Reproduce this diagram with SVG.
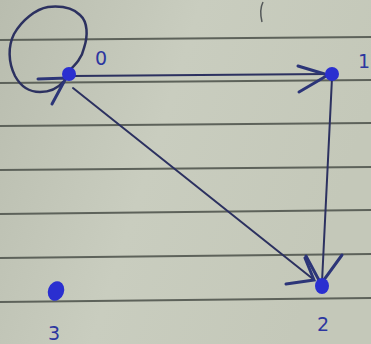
<svg xmlns="http://www.w3.org/2000/svg" width="371" height="344" viewBox="0 0 371 344">
<defs>
<linearGradient id="paper" x1="0" y1="0" x2="1" y2="0.3">
<stop offset="0" stop-color="#b9bdaf"/>
<stop offset="0.5" stop-color="#c9cdbf"/>
<stop offset="1" stop-color="#c4c8b9"/>
</linearGradient>
<style>
.rule{stroke:#5d625a;stroke-width:2;fill:none}
.edge{stroke:#2c3160;stroke-width:2;fill:none;stroke-linecap:round}
.loop{stroke:#2c3160;stroke-width:2.5;fill:none;stroke-linecap:round}
.head{stroke:#2c3578;stroke-width:3;fill:none;stroke-linecap:round}
.dot{fill:#2a2fd0}
.lbl{font-family:"DejaVu Sans",sans-serif;font-size:19px;fill:#2c36a0}
</style>
</defs>
<rect width="371" height="344" fill="url(#paper)"/>
<g id="paper-lines">
<line class="rule" x1="0" y1="-2" x2="371" y2="-5"/>
<line class="rule" x1="0" y1="40" x2="371" y2="37"/>
<line class="rule" x1="0" y1="83" x2="371" y2="80"/>
<line class="rule" x1="0" y1="126" x2="371" y2="123"/>
<line class="rule" x1="0" y1="170" x2="371" y2="167"/>
<line class="rule" x1="0" y1="214" x2="371" y2="210"/>
<line class="rule" x1="0" y1="258" x2="371" y2="254"/>
<line class="rule" x1="0" y1="302" x2="371" y2="298"/>
<path d="M263 2 Q259 10 262 22" stroke="#55595a" stroke-width="1.5" fill="none"/>
</g>
<g id="connectors">
<path class="loop" d="M68 72 C76 64 82 58 84 48 C88 36 88 22 80 15 C72 7 58 6 48 7 C36 9 22 20 14 34 C8 46 8 62 15 76 C21 87 30 92 40 92 C50 92 58 88 63 82"/>
<path class="head" d="M38 79 L66 78 L52 104"/>
<path class="edge" d="M72 76 L328 74"/>
<path class="head" d="M298 66 L328 75 L299 92"/>
<path class="edge" d="M332 78 L322 282"/>
<path class="head" d="M306 256 L321 284 L342 255"/>
<path class="edge" d="M73 88 L313 279"/>
<path class="head" d="M286 284 L314 280 L305 258"/>
</g>
<g id="node-0">
<circle class="dot" cx="69" cy="74" r="7"/>
<text class="lbl" x="101" y="65" text-anchor="middle">0</text>
</g>
<g id="node-1">
<circle class="dot" cx="332" cy="74" r="7"/>
<text class="lbl" x="364" y="68" text-anchor="middle">1</text>
</g>
<g id="node-2">
<ellipse class="dot" cx="322" cy="286" rx="7" ry="8"/>
<text class="lbl" x="323" y="331" text-anchor="middle">2</text>
</g>
<g id="node-3">
<ellipse class="dot" cx="56" cy="291" rx="8" ry="10" transform="rotate(20 56 291)"/>
<text class="lbl" x="54" y="340" text-anchor="middle">3</text>
</g>
</svg>
